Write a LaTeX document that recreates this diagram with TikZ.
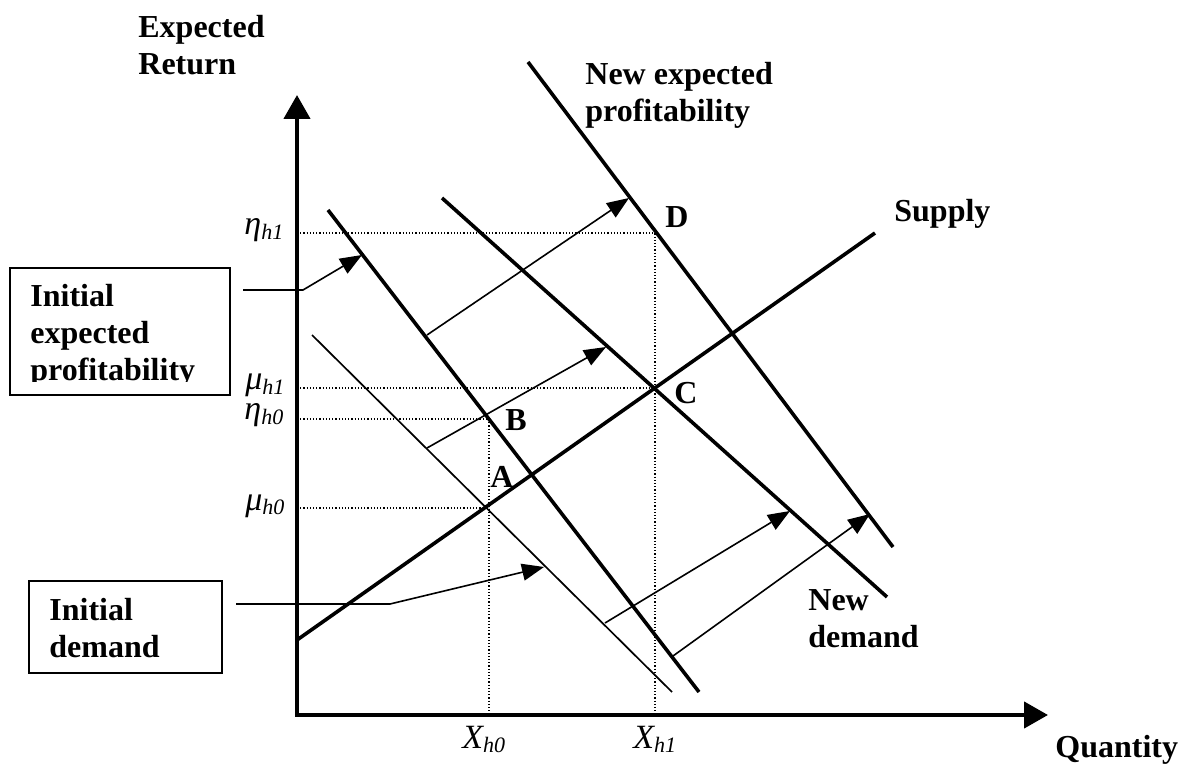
\documentclass[tikz,border=0pt]{standalone}
\usepackage{fontspec}
\setmainfont{Liberation Serif}
\usetikzlibrary{arrows.meta}
\newcommand\sbx[1]{\raisebox{-2pt}{\fontsize{11}{12}\selectfont #1}}
\begin{document}
\begin{tikzpicture}[x=0.5pt,y=-0.5pt,
  lbl/.style={font=\fontsize{16}{18.5}\selectfont\bfseries, inner sep=0pt, anchor=base west, align=left},
  sym/.style={font=\fontsize{17}{18.5}\selectfont\itshape, inner sep=0pt, anchor=base west},
  axisline/.style={line width=2.2pt, line join=miter},
  boldline/.style={line width=1.8pt},
  thinline/.style={line width=0.85pt},
  arr/.style={line width=0.8pt, -{Triangle[length=11pt,width=8.5pt]}},
  guide/.style={line width=0.75pt, dash pattern=on 0.6pt off 1pt},
  boxed/.style={draw, line width=0.9pt, inner sep=0pt, anchor=north west}
]
\useasboundingbox (0,0) rectangle (1184,770);

% key coordinates
\coordinate (O) at (297,715);
\coordinate (Ytip) at (297,95);
\coordinate (Xtip) at (1048,715);
\coordinate (S1) at (297,640);
\coordinate (S2) at (875,233);
\coordinate (ID1) at (312,335);
\coordinate (ID2) at (672,692);
\coordinate (IP1) at (328,210);
\coordinate (IP2) at (699,692);
\coordinate (ND1) at (442,198);
\coordinate (ND2) at (887,597);
\coordinate (NP1) at (528,62);
\coordinate (NP2) at (893,547);

% guide (dotted) lines
\coordinate (eta1) at (297,233);
\coordinate (D) at (655,233);
\coordinate (Xh1) at (655,715);
\coordinate (mu1) at (297,388);
\coordinate (C) at (655,388);
\coordinate (eta0) at (297,419);
\coordinate (B) at (489,419);
\coordinate (Xh0) at (489,715);
\coordinate (mu0) at (297,508);
\coordinate (A) at (489,508);
\draw[guide] (eta1) -- (D) -- (Xh1);
\draw[guide] (mu1) -- (C);
\draw[guide] (eta0) -- (B) -- (Xh0);
\draw[guide] (mu0) -- (A);

% axes
\draw[axisline, {Triangle[length=12pt,width=13pt]}-{Triangle[length=12pt,width=13pt]}] (Ytip) -- (O) -- (Xtip);

% curves
\draw[boldline] (S1) -- (S2);
\draw[thinline] (ID1) -- (ID2);
\draw[boldline] (IP1) -- (IP2);
\draw[boldline] (ND1) -- (ND2);
\draw[boldline] (NP1) -- (NP2);

% boxes
\node[boxed, minimum width=110pt, minimum height=63.5pt] (box1) at (9,267) {};
\begin{scope}
  \clip (9,267) rectangle (229,382);
  \node[lbl] (t1) at (30,380) {Initial\\expected\\profitability};
\end{scope}
\node[boxed, minimum width=96.5pt, minimum height=46pt] (box2) at (28,580) {};
\node[lbl] (t2) at (49,657) {Initial\\demand};

% arrows
\coordinate (a0) at (243,290); \coordinate (a1) at (303,290); \coordinate (a2) at (362,255);
\draw[arr] (a0) -- (a1) -- (a2);
\coordinate (b0) at (427,335); \coordinate (b1) at (629,198);
\draw[arr] (b0) -- (b1);
\coordinate (c0) at (427,448); \coordinate (c1) at (606,347);
\draw[arr] (c0) -- (c1);
\coordinate (d0) at (236,604); \coordinate (d1) at (390,604); \coordinate (d2) at (544,567);
\draw[arr] (d0) -- (d1) -- (d2);
\coordinate (e0) at (605,623); \coordinate (e1) at (790,511);
\draw[arr] (e0) -- (e1);
\coordinate (f0) at (673,656); \coordinate (f1) at (870,514);
\draw[arr] (f0) -- (f1);

% axis labels and texts
\node[lbl] (ylab) at (138,75) {Expected\\Return};
\node[lbl] (xlab) at (1055,757) {Quantity};
\node[lbl] (nep) at (585,122) {New expected\\profitability};
\node[lbl] (sup) at (894,222) {Supply};
\node[lbl] (nd) at (808,647) {New\\demand};
\node[lbl] (lA) at (490,487) {A};
\node[lbl] (lB) at (505,430) {B};
\node[lbl] (lC) at (674,403) {C};
\node[lbl] (lD) at (665,228) {D};

% tick labels
\node[sym] (leta1) at (244,235) {η\sbx{h1}};
\node[sym] (lmu1) at (245,390) {μ\sbx{h1}};
\node[sym] (leta0) at (244,420) {η\sbx{h0}};
\node[sym] (lmu0) at (245,510) {μ\sbx{h0}};
\node[sym] (lX0) at (462,748) {X\sbx{h0}};
\node[sym] (lX1) at (633,748) {X\sbx{h1}};
\end{tikzpicture}
\end{document}
